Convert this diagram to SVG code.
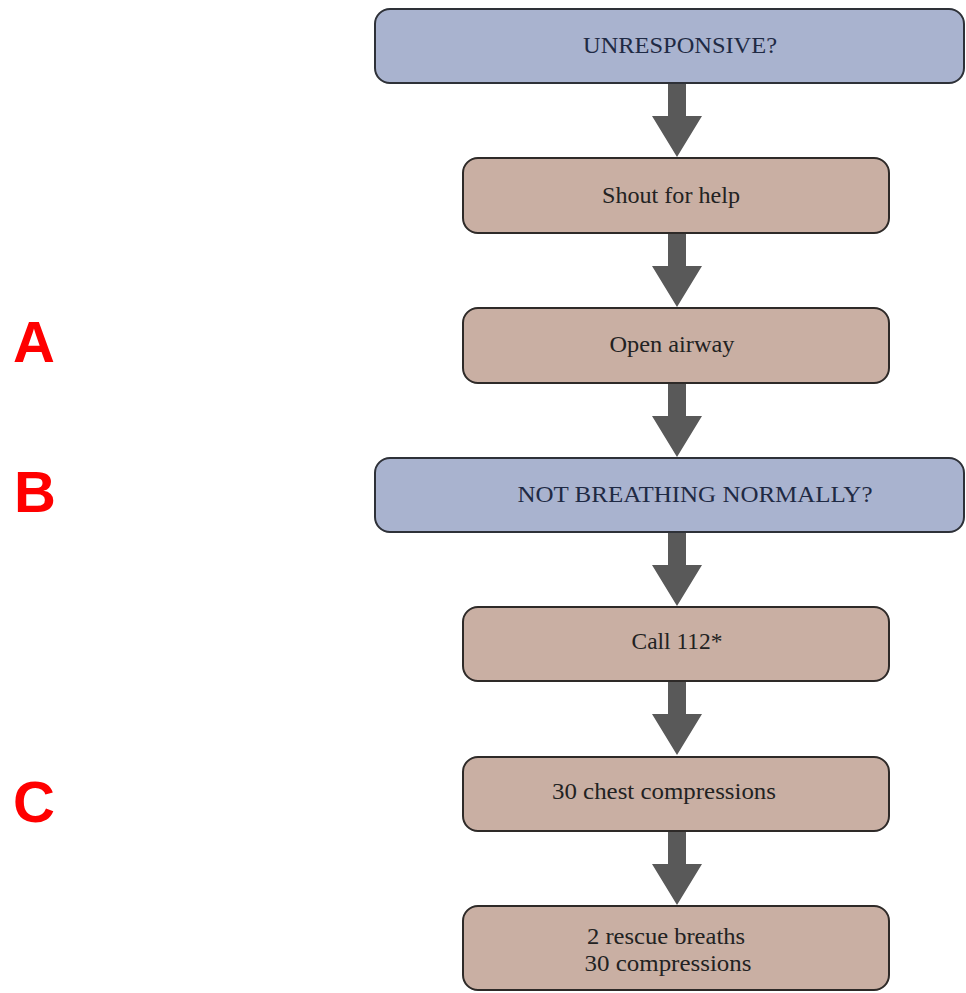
<svg xmlns="http://www.w3.org/2000/svg" width="966" height="993" viewBox="0 0 966 993">
<style>
.q{fill:#a9b3cf;stroke:#2e3138;stroke-width:2}
.s{fill:#c9afa3;stroke:#2e2a28;stroke-width:2}
.t{font-family:"Liberation Serif","Times New Roman",serif;font-size:24px;fill:#222;text-anchor:middle}
.tq{fill:#1f2a44}
.lab{font-family:"Liberation Sans",Arial,sans-serif;font-weight:bold;font-size:58px;fill:#ff0000}
.arr{fill:#595959}
</style>
<rect width="966" height="993" fill="#ffffff"/>
<g id="connectors">
<path class="arr" d="M668,83 h18 v33 h16 l-25,41 l-25,-41 h16 z"/>
<path class="arr" d="M668,233 h18 v33 h16 l-25,41 l-25,-41 h16 z"/>
<path class="arr" d="M668,383 h18 v33 h16 l-25,41 l-25,-41 h16 z"/>
<path class="arr" d="M668,532 h18 v33 h16 l-25,41 l-25,-41 h16 z"/>
<path class="arr" d="M668,681 h18 v33 h16 l-25,41 l-25,-41 h16 z"/>
<path class="arr" d="M668,831 h18 v33 h16 l-25,41 l-25,-41 h16 z"/>
</g>
<g id="n1"><rect class="q" x="375" y="9" width="589" height="74" rx="15"/><text class="t tq" x="680" y="53" textLength="194" lengthAdjust="spacingAndGlyphs">UNRESPONSIVE?</text></g>
<g id="n2"><rect class="s" x="463" y="158" width="426" height="75" rx="15"/><text class="t" x="671" y="203" textLength="138" lengthAdjust="spacingAndGlyphs">Shout for help</text></g>
<g id="n3"><rect class="s" x="463" y="308" width="426" height="75" rx="15"/><text class="t" x="672" y="352" textLength="125" lengthAdjust="spacingAndGlyphs">Open airway</text></g>
<g id="n4"><rect class="q" x="375" y="458" width="589" height="74" rx="15"/><text class="t tq" x="695" y="502" textLength="355" lengthAdjust="spacingAndGlyphs">NOT BREATHING NORMALLY?</text></g>
<g id="n5"><rect class="s" x="463" y="607" width="426" height="74" rx="15"/><text class="t" x="677" y="649" textLength="91" lengthAdjust="spacingAndGlyphs">Call 112*</text></g>
<g id="n6"><rect class="s" x="463" y="757" width="426" height="74" rx="15"/><text class="t" x="664" y="799" textLength="224" lengthAdjust="spacingAndGlyphs">30 chest compressions</text></g>
<g id="n7"><rect class="s" x="463" y="906" width="426" height="84" rx="15"/><text class="t" x="666" y="944" textLength="158" lengthAdjust="spacingAndGlyphs">2 rescue breaths</text><text class="t" x="668" y="971" textLength="167" lengthAdjust="spacingAndGlyphs">30 compressions</text></g>
<g id="labels">
<text class="lab" x="13" y="362">A</text>
<text class="lab" x="14" y="512">B</text>
<text class="lab" x="13" y="822">C</text>
</g>
</svg>
